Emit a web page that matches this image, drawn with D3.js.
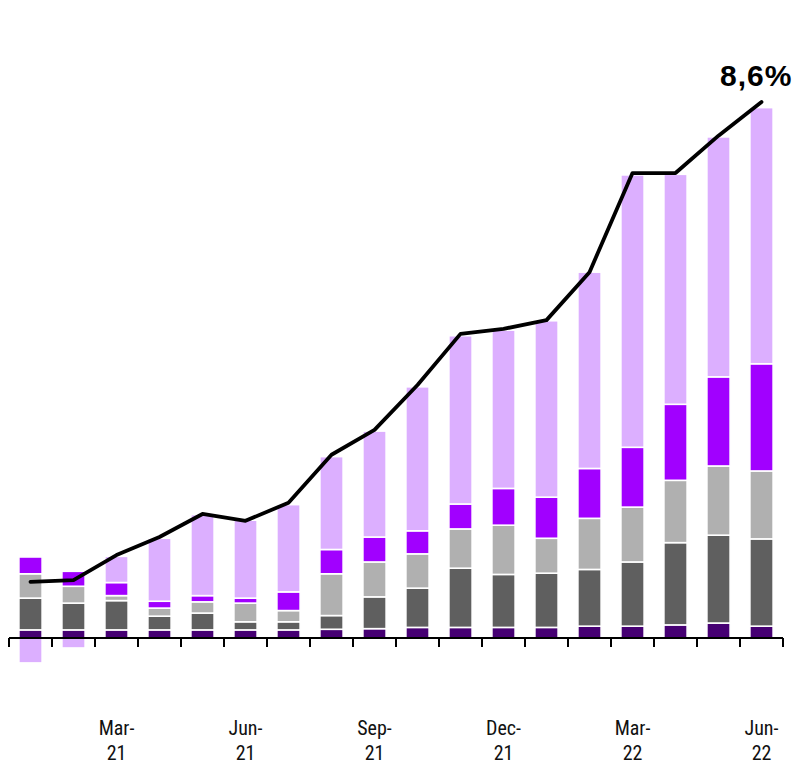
<!DOCTYPE html>
<html>
<head>
<meta charset="utf-8">
<script src="https://cdn.jsdelivr.net/npm/d3@7"></script>
<style>
  html, body { margin: 0; padding: 0; background: #fff; }
  svg { display: block; }
</style>
</head>
<body>
<svg id="chart" width="795" height="764"></svg>
<script>
// ---- data ----
const months = ["Jan-21","Feb-21","Mar-21","Apr-21","May-21","Jun-21","Jul-21","Aug-21","Sep-21",
                "Oct-21","Nov-21","Dec-21","Jan-22","Feb-22","Mar-22","Apr-22","May-22","Jun-22"];
const darkPurple   = [0.13,0.13,0.13,0.13,0.13,0.13,0.13,0.14,0.15,0.17,0.17,0.17,0.17,0.19,0.19,0.21,0.24,0.19];
const darkGray     = [0.51,0.43,0.47,0.22,0.27,0.13,0.13,0.22,0.51,0.63,0.95,0.85,0.87,0.91,1.03,1.32,1.41,1.40];
const lightGray    = [0.39,0.27,0.08,0.13,0.18,0.30,0.18,0.67,0.56,0.55,0.63,0.79,0.56,0.82,0.88,1.00,1.11,1.09];
const brightPurple = [0.27,0.24,0.21,0.11,0.10,0.08,0.30,0.39,0.40,0.37,0.40,0.59,0.66,0.80,0.96,1.22,1.43,1.72];
const lavender     = [-0.40,-0.16,0.42,1.01,1.30,1.25,1.40,1.49,1.70,2.31,2.70,2.54,2.83,3.15,4.37,3.69,3.85,4.11];
const total        = [0.90,0.93,1.33,1.62,1.99,1.88,2.17,2.94,3.34,4.06,4.88,4.96,5.10,5.87,7.46,7.46,8.06,8.60];
const tickLabels   = {"Mar-21":["Mar-","21"],"Jun-21":["Jun-","21"],"Sep-21":["Sep-","21"],
                      "Dec-21":["Dec-","21"],"Mar-22":["Mar-","22"],"Jun-22":["Jun-","22"]};
const lastLabel = "8,6%";

const seriesKeys = ["darkPurple","darkGray","lightGray","brightPurple","lavender"];
const seriesVals = {darkPurple, darkGray, lightGray, brightPurple, lavender};
const colors = {darkPurple:"#460073", darkGray:"#5f5f5f", lightGray:"#b0b0b0",
                brightPurple:"#a100ff", lavender:"#dcafff"};

const rows = months.map((m,i) => {
  const r = {month:m};
  seriesKeys.forEach(k => r[k] = seriesVals[k][i]);
  return r;
});

// ---- layout ----
const svg = d3.select("#chart");
const x = d3.scaleBand().domain(months).range([9, 783]).paddingInner(0.46).paddingOuter(0.23);
const y = d3.scaleLinear().domain([0, 8.6]).range([638, 102]);

const stacked = d3.stack().keys(seriesKeys).offset(d3.stackOffsetDiverging)(rows);

svg.append("g").selectAll("g")
  .data(stacked).join("g")
  .attr("fill", d => colors[d.key])
  .selectAll("rect")
  .data(d => d).join("rect")
  .attr("x", d => x(d.data.month))
  .attr("width", x.bandwidth())
  .attr("y", d => y(Math.max(d[0], d[1])))
  .attr("height", d => Math.abs(y(d[0]) - y(d[1])))
  .attr("stroke", "#fff")
  .attr("stroke-width", 1.6);

// axis line + boundary ticks
const step = x.step();
const gap = step - x.bandwidth();
const ax = svg.append("g");
ax.append("line")
  .attr("x1", 9).attr("x2", 783).attr("y1", y(0)).attr("y2", y(0))
  .attr("stroke", "#000").attr("stroke-width", 2);
const bounds = months.map(m => x(m) - gap/2).concat([x(months[months.length-1]) + x.bandwidth() + gap/2]);
ax.selectAll("line.tick").data(bounds).join("line")
  .attr("class","tick")
  .attr("x1", d => d).attr("x2", d => d)
  .attr("y1", y(0)).attr("y2", y(0) + 9)
  .attr("stroke", "#000").attr("stroke-width", 2);

// labels
const lab = svg.append("g")
  .attr("font-family", "'Liberation Sans Narrow','Roboto Condensed',Roboto,sans-serif")
  .attr("font-size", 20).attr("fill", "#111").attr("text-anchor","middle");
months.filter(m => tickLabels[m]).forEach(m => {
  const cx = x(m) + x.bandwidth()/2;
  lab.append("text").attr("x", cx).attr("y", 735).text(tickLabels[m][0]);
  lab.append("text").attr("x", cx).attr("y", 760).text(tickLabels[m][1]);
});

// total line
const line = d3.line()
  .x((d,i) => x(months[i]) + x.bandwidth()/2)
  .y(d => y(d));
svg.append("path")
  .datum(total)
  .attr("d", line)
  .attr("fill","none")
  .attr("stroke","#000")
  .attr("stroke-width", 3.8)
  .attr("stroke-linejoin","round")
  .attr("stroke-linecap","round");

// end label
svg.append("text")
  .attr("x", 720).attr("y", 86)
  .attr("font-family","'Liberation Sans',Arial,sans-serif")
  .attr("font-weight", 900)
  .attr("font-size", 30)
  .attr("letter-spacing", 1)
  .text(lastLabel);
</script>
</body>
</html>
